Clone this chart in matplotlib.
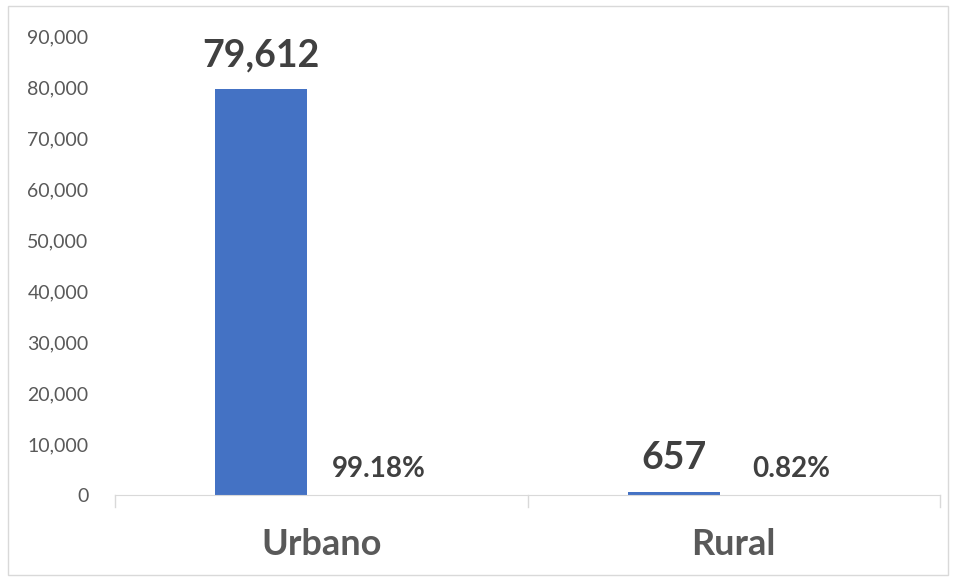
import matplotlib
matplotlib.use("Agg")
import matplotlib.pyplot as plt
from matplotlib.patches import Rectangle

categories = ["Urbano", "Rural"]
counts = [79612, 657]
shares = [99.18, 0.82]
yticks = [0, 10000, 20000, 30000, 40000, 50000, 60000, 70000, 80000, 90000]

plt.rcParams['font.family'] = ['Lato', 'DejaVu Sans']

fig = plt.figure(figsize=(9.56, 5.78), dpi=100)
# plot area in pixels: x 115..940, y 36..495 (top-down)
ax = fig.add_axes([115 / 956, 1 - 495 / 578, 825 / 956, 459 / 578])

x = list(range(len(categories)))
ax.bar([i - 0.146 for i in x], counts, width=0.223, color="#4472c4")
# percentage series is too small to show, only its labels are seen
ax.bar([i + 0.14 for i in x], shares, width=0.223, color="none")

for i, v in enumerate(counts):
    ax.annotate(f"{v:,}", (i - 0.146, v), xytext=(0, 12), textcoords="offset points",
                ha="center", va="bottom", fontsize=27, fontweight="bold", color="#404040")
for i, v in enumerate(shares):
    ax.annotate(f"{v:.2f}%", (i + 0.14, v), xytext=(0, 9), textcoords="offset points",
                ha="center", va="bottom", fontsize=20, fontweight="bold", color="#404040")

ax.set_xlim(-0.5, len(categories) - 0.5)
ax.set_ylim(0, 90000)
ax.set_yticks(yticks)
ax.set_yticklabels([f"{t:,}" for t in yticks], fontsize=14, color="#595959")
ax.set_xticks(x)
ax.set_xticklabels(categories, fontsize=26, fontweight="bold", color="#595959")
ax.tick_params(axis="x", length=0, pad=24)
ax.tick_params(axis="y", length=0, pad=19)

for s in ["top", "right", "left"]:
    ax.spines[s].set_visible(False)
ax.spines["bottom"].set_color("#d9d9d9")

# category boundary tick marks
for b in [-0.5, 0.5, 1.5]:
    ax.plot([b, b], [0, -0.027], color="#d9d9d9", lw=1,
            transform=ax.get_xaxis_transform(), clip_on=False)

fig.patches.append(Rectangle((8 / 956, 3 / 578), 940 / 956, 569 / 578, transform=fig.transFigure,
                             fill=False, edgecolor="#d9d9d9", lw=1))

fig.savefig("out.png", dpi=100)
